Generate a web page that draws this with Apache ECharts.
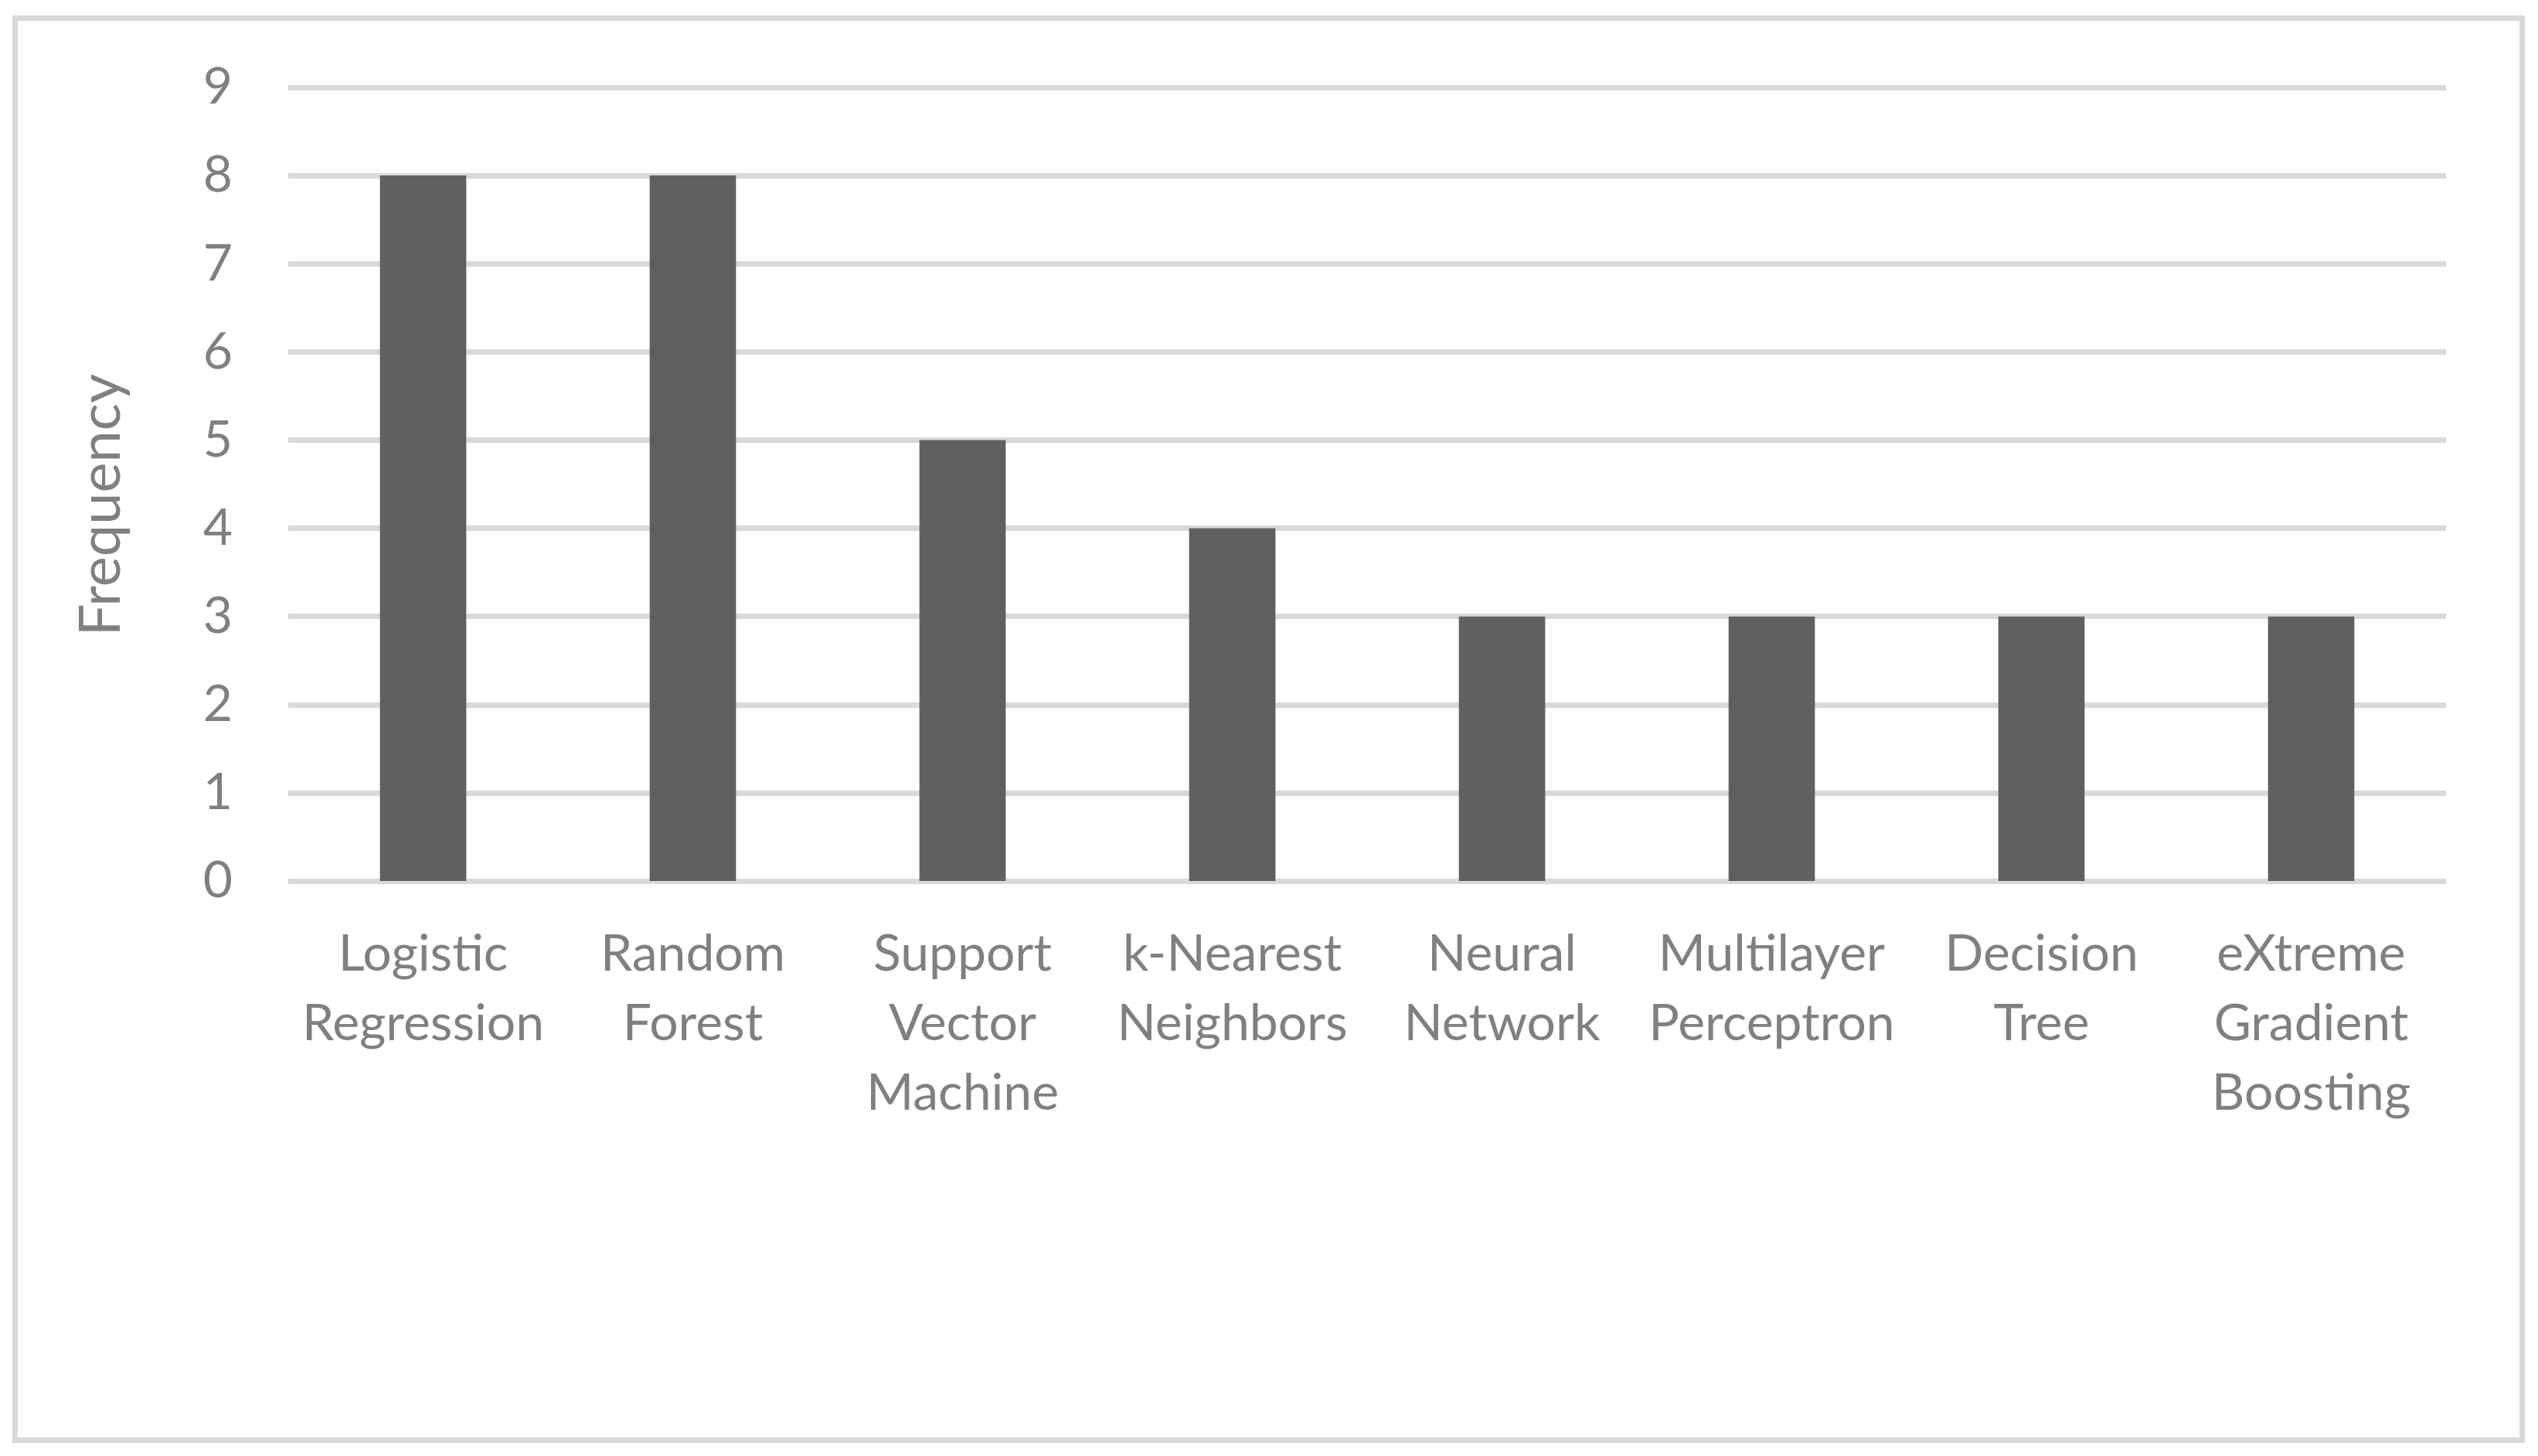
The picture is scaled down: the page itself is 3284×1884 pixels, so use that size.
<!DOCTYPE html>
<html>
<head>
<meta charset="utf-8">
<script src="https://cdn.jsdelivr.net/npm/echarts@6/dist/echarts.min.js"></script>
<style>
    html, body {margin: 0; padding: 0; background: #fff;}
    #chart {width: 3284px; height: 1884px;}
</style>
</head>
<body>
<div id="chart"></div>
<script>
// data
const categories = [
    'Logistic\nRegression',
    'Random\nForest',
    'Support\nVector\nMachine',
    'k-Nearest\nNeighbors',
    'Neural\nNetwork',
    'Multilayer\nPerceptron',
    'Decision\nTree',
    'eXtreme\nGradient\nBoosting'
];
const frequency = [8, 8, 5, 4, 3, 3, 3, 3];
const yTicks = [0, 1, 2, 3, 4, 5, 6, 7, 8, 9];

const labelColor = '#808080';
const gridColor = '#d9d9d9';
const fontFamily = 'Lato, "Open Sans", sans-serif';

const chart = echarts.init(document.getElementById('chart'), null, {renderer: 'canvas'});

const option = {
    backgroundColor: '#fff',
    animation: false,
    grid: {
        left: 373,
        right: 3284 - 3165,
        top: 113,
        bottom: 1884 - 1140,
        containLabel: false
    },
    graphic: [
        {
            type: 'rect',
            shape: {x: 19.5, y: 23.5, width: 3244, height: 1840},
            style: {fill: 'none', stroke: gridColor, lineWidth: 7},
            silent: true
        }
    ],
    xAxis: {
        type: 'category',
        data: categories,
        axisLine: {show: false},
        axisTick: {show: false},
        axisLabel: {
            interval: 0,
            color: labelColor,
            fontFamily: fontFamily,
            fontSize: 66,
            lineHeight: 90,
            margin: 50
        }
    },
    yAxis: {
        type: 'value',
        min: yTicks[0],
        max: yTicks[yTicks.length - 1],
        interval: 1,
        name: 'Frequency',
        nameLocation: 'middle',
        nameGap: 205,
        nameRotate: 90,
        nameTextStyle: {
            color: labelColor,
            fontFamily: fontFamily,
            fontSize: 74,
            padding: [0, 54, 0, 0]
        },
        axisLine: {show: false},
        axisTick: {show: false},
        axisLabel: {
            color: labelColor,
            fontFamily: fontFamily,
            fontSize: 66,
            margin: 72
        },
        splitLine: {
            show: true,
            lineStyle: {color: gridColor, width: 7}
        }
    },
    series: [
        {
            type: 'bar',
            data: frequency,
            barWidth: '32%',
            itemStyle: {color: '#606060'}
        }
    ]
};

chart.setOption(option);
</script>
</body>
</html>
